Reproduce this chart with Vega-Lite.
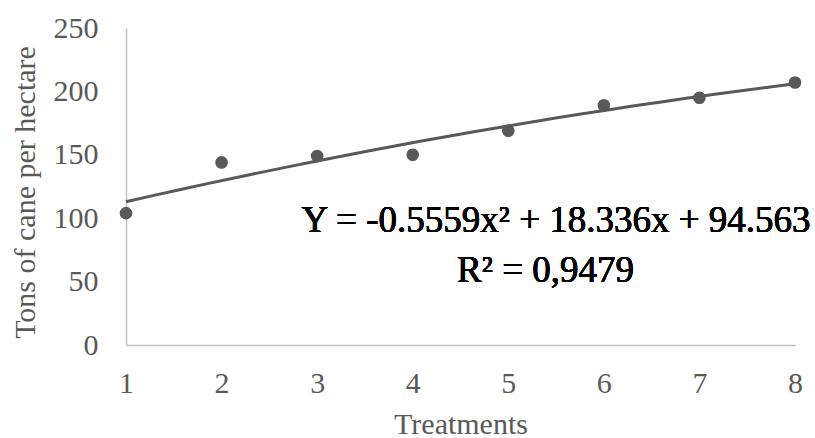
{
  "$schema": "https://vega.github.io/schema/vega-lite/v6.json",
  "autosize": "none",
  "width": 669,
  "height": 317,
  "padding": {"left": 126, "top": 28, "right": 20, "bottom": 93},
  "background": "white",
  "config": {
    "view": {"stroke": null},
    "font": "Liberation Serif",
    "axis": {
      "grid": false,
      "ticks": false,
      "domainColor": "#bfbfbf",
      "domainWidth": 1.5,
      "labelFont": "Liberation Serif",
      "labelFontSize": 30,
      "labelColor": "#595959",
      "titleFont": "Liberation Serif",
      "titleFontSize": 30,
      "titleFontWeight": "normal",
      "titleColor": "#595959"
    }
  },
  "data": {
    "values": [
      {"treatment": 1, "tons": 104},
      {"treatment": 2, "tons": 144},
      {"treatment": 3, "tons": 149},
      {"treatment": 4, "tons": 150},
      {"treatment": 5, "tons": 169},
      {"treatment": 6, "tons": 189},
      {"treatment": 7, "tons": 195},
      {"treatment": 8, "tons": 207}
    ]
  },
  "layer": [
    {
      "transform": [
        {"regression": "tons", "on": "treatment", "method": "poly", "order": 2, "extent": [1, 8]}
      ],
      "mark": {"type": "line", "color": "#595959", "strokeWidth": 3},
      "encoding": {
        "x": {
          "field": "treatment",
          "type": "quantitative",
          "scale": {"domain": [1, 8], "nice": false, "zero": false},
          "axis": {
            "title": "Treatments",
            "values": [1, 2, 3, 4, 5, 6, 7, 8],
            "format": "d",
            "labelPadding": 23,
            "titlePadding": 11,
            "labelFlush": false
          }
        },
        "y": {
          "field": "tons",
          "type": "quantitative",
          "scale": {"domain": [0, 250], "nice": false},
          "axis": {
            "title": "Tons of cane per hectare",
            "values": [0, 50, 100, 150, 200, 250],
            "format": "d",
            "labelPadding": 28,
            "titleX": -92,
            "titleY": 164,
            "titleAngle": -90,
            "titleAlign": "center",
            "titleBaseline": "alphabetic",
            "labelFlush": false
          }
        }
      }
    },
    {
      "mark": {"type": "circle", "fill": "#595959", "opacity": 1, "size": 160},
      "encoding": {
        "x": {"field": "treatment", "type": "quantitative"},
        "y": {"field": "tons", "type": "quantitative"}
      }
    },
    {
      "mark": {"type": "text", "text": "Y = -0.5559x² + 18.336x + 94.563", "font": "Liberation Serif", "fontSize": 37, "fontWeight": "normal", "fill": "#000000", "stroke": null, "align": "center", "baseline": "alphabetic"},
      "encoding": {
        "x": {"datum": 5.5},
        "y": {"datum": 89}
      }
    },
    {
      "mark": {"type": "text", "text": "R² = 0,9479", "font": "Liberation Serif", "fontSize": 37, "fontWeight": "normal", "fill": "#000000", "stroke": null, "align": "center", "baseline": "alphabetic"},
      "encoding": {
        "x": {"datum": 5.39},
        "y": {"datum": 49.5}
      }
    }
  ]
}
